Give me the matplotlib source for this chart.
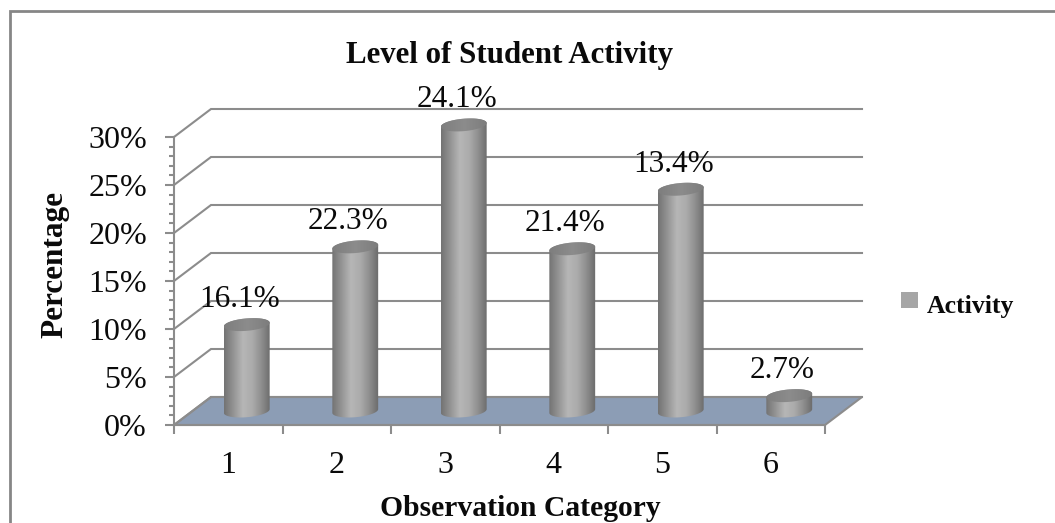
import numpy as np
import matplotlib
matplotlib.use('Agg')
import matplotlib.pyplot as plt
from matplotlib.lines import Line2D
from matplotlib.patches import Polygon, Rectangle
from matplotlib.colors import LinearSegmentedColormap

plt.rcParams['font.family'] = ['Liberation Serif', 'DejaVu Serif']

categories = ['1', '2', '3', '4', '5', '6']
# drawn heights differ from the printed labels in the original chart
heights = [9.0, 17.1, 29.8, 16.9, 23.1, 1.6]
labels = ['16.1%', '22.3%', '24.1%', '21.4%', '13.4%', '2.7%']
y_ticks = [0, 5, 10, 15, 20, 25, 30]
y_tick_labels = ['0%', '5%', '10%', '15%', '20%', '25%', '30%']

W, H = 1055, 523
GREY = '#8c8c8c'
TEXT = '#0a0a0a'
PX_X = 651 / 6      # pixels per category
PX_Y = 288 / 30     # pixels per percent
DX = 37 / PX_X      # depth of the 3d box in data units
DY = 28 / PX_Y

fig = plt.figure(figsize=(W / 100, H / 100), dpi=100, facecolor='white')
ax = fig.add_axes([174 / W, (H - 425) / H, 651 / W, 288 / H], facecolor='none')
ax.set_xlim(0.5, 6.5)
ax.set_ylim(0, 30)

# outer chart frame, only top and left are inside the crop
fig.add_artist(Line2D([9.5 / W, 9.5 / W, 1], [0, 1 - 11 / H, 1 - 11 / H], color='#868686',
                      linewidth=2, transform=fig.transFigure, solid_joinstyle='miter'))

# floor
floor = [(0.5, 0), (6.5, 0), (6.5 + DX, DY), (0.5 + DX, DY)]
ax.add_patch(Polygon(floor, closed=True, facecolor='#8c9db5', edgecolor=GREY, linewidth=1.5,
                     clip_on=False, zorder=1))

# walls
for y in y_ticks:
    ax.plot([0.5, 0.5 + DX, 6.5 + DX], [y, y + DY, y + DY], color=GREY, linewidth=1.5,
            clip_on=False, zorder=1, solid_joinstyle='miter')

shade = LinearSegmentedColormap.from_list('cyl', ['#737373', '#949494', '#b6b6b6', '#acacac', '#8e8e8e', '#6a6a6a'])
top_shade = LinearSegmentedColormap.from_list('top', ['#7e7e7e', '#8c8c8c', '#7c7c7c'])
grad = np.linspace(0, 1, 128).reshape(1, -1)


def ellipse_points(cx, cy, start, stop):
    # tilted ellipse outline, worked out in pixels and turned back into data units
    rx, ry, tilt = 23, 6.2, np.radians(5)
    t = np.linspace(start, stop, 60)
    px = rx * np.cos(t)
    py = ry * np.sin(t)
    xs = cx + (px * np.cos(tilt) - py * np.sin(tilt)) / PX_X
    ys = cy + (px * np.sin(tilt) + py * np.cos(tilt)) / PX_Y
    return np.column_stack([xs, ys])


for i, (h, lab) in enumerate(zip(heights, labels)):
    cx = i + 1 + DX / 2
    cy = DY / 2
    bottom = ellipse_points(cx, cy, np.pi, 2 * np.pi)
    top = ellipse_points(cx, cy + h, 0, np.pi)
    body = Polygon(np.vstack([bottom, top]), closed=True, transform=ax.transData)
    x0, x1 = cx - 23.2 / PX_X, cx + 23.2 / PX_X
    im = ax.imshow(grad, cmap=shade, extent=[x0, x1, cy - 1, cy + h + 1], aspect='auto',
                   vmin=0, vmax=1, zorder=3)
    im.set_clip_path(body)
    im.set_clip_box(fig.bbox)

    lid = Polygon(ellipse_points(cx, cy + h, 0, 2 * np.pi), closed=True, transform=ax.transData)
    im2 = ax.imshow(grad, cmap=top_shade, extent=[x0, x1, cy + h - 1, cy + h + 1], aspect='auto',
                    vmin=0, vmax=1, zorder=4)
    im2.set_clip_path(lid)
    im2.set_clip_box(fig.bbox)

    ax.annotate(lab, (cx, cy + h), xytext=(-7 * 0.72, 25 * 0.72), textcoords='offset points',
                ha='center', va='center', fontsize=22.5, color=TEXT, zorder=5,
                annotation_clip=False)

ax.set_xlim(0.5, 6.5)
ax.set_ylim(0, 30)

for side in ['top', 'right']:
    ax.spines[side].set_visible(False)
for side in ['left', 'bottom']:
    ax.spines[side].set_color(GREY)
    ax.spines[side].set_linewidth(1.5)

ax.set_yticks(y_ticks)
ax.set_yticklabels(y_tick_labels)
ax.set_yticks(np.arange(0, 31), minor=True)
ax.tick_params(axis='y', which='major', length=6.5, width=1.5, color=GREY, pad=13,
               labelsize=23, labelcolor=TEXT)
ax.tick_params(axis='y', which='minor', length=3.6, width=1.5, color=GREY)

ax.set_xticks(np.arange(0.5, 7))
ax.set_xticklabels([])
ax.set_xticks(np.arange(1, 7), minor=True)
ax.set_xticklabels(categories, minor=True)
ax.tick_params(axis='x', which='major', length=6.5, width=1.5, color=GREY)
ax.tick_params(axis='x', which='minor', length=0, pad=19, labelsize=23, labelcolor=TEXT)

fig.text(510 / W, 1 - 63 / H, 'Level of Student Activity', ha='center', va='baseline',
         fontsize=22.2, fontweight='bold', color=TEXT)
fig.text(520 / W, 1 - 516 / H, 'Observation Category', ha='center', va='baseline',
         fontsize=21.3, fontweight='bold', color=TEXT)
fig.text(55 / W, 1 - 264 / H, 'Percentage', ha='center', va='center', rotation=90,
         fontsize=22.5, fontweight='bold', color=TEXT)

# legend drawn by hand to sit where the original has it
fig.add_artist(Rectangle((901 / W, 1 - 308 / H), 17 / W, 16 / H, facecolor='#a6a6a6',
                         edgecolor='none', transform=fig.transFigure))
fig.text(927 / W, 1 - 313 / H, 'Activity', ha='left', va='baseline', fontsize=18.5,
         fontweight='bold', color=TEXT)

fig.savefig('out.png', dpi=100)
